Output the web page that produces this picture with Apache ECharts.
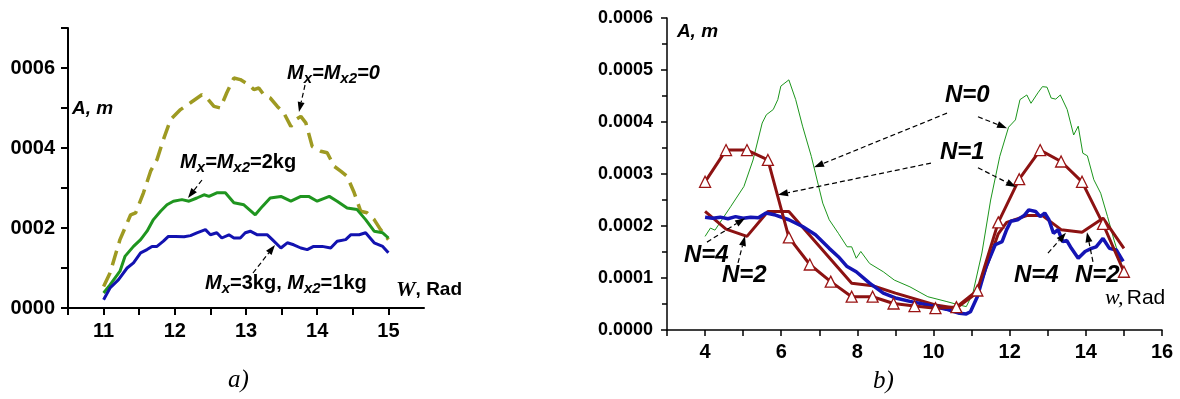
<!DOCTYPE html>
<html><head><meta charset="utf-8">
<script src="https://cdn.jsdelivr.net/npm/echarts@6/dist/echarts.min.js"></script>
<style>html,body{margin:0;padding:0;background:#fff}#c{width:1180px;height:399px}</style>
</head><body><div id="c"></div>
<script>
// ---------- DATA (left panel a) : frequency W (rad) vs amplitude A (m) ----------
const leftM0 = [[11.0,0.000054],[11.09,0.0000875],[11.23,0.000171],[11.38,0.000233],[11.45,0.000238],[11.56,0.000288],[11.66,0.000342],[11.75,0.000371],[11.84,0.000421],[11.94,0.000471],[12.08,0.000496],[12.22,0.000513],[12.38,0.000533],[12.45,0.000525],[12.55,0.000504],[12.64,0.0005],[12.73,0.000538],[12.83,0.000575],[12.92,0.000571],[13.04,0.000558],[13.11,0.000546],[13.18,0.00055],[13.25,0.000533],[13.34,0.000525],[13.44,0.000504],[13.53,0.000488],[13.63,0.000454],[13.70,0.000471],[13.77,0.000479],[13.84,0.000463],[13.93,0.000404],[14.05,0.000392],[14.14,0.000388],[14.24,0.000354],[14.33,0.000342],[14.42,0.000329],[14.52,0.000288],[14.61,0.000242],[14.70,0.000238],[14.80,0.000221],[14.89,0.000196],[15.0,0.000171]];
const leftM2 = [[11.0,0.0000375],[11.09,0.000058],[11.23,0.000092],[11.30,0.000129],[11.42,0.000154],[11.52,0.000171],[11.61,0.000192],[11.70,0.000221],[11.80,0.000242],[11.89,0.000258],[11.98,0.000267],[12.10,0.000271],[12.20,0.000267],[12.31,0.000275],[12.41,0.000283],[12.48,0.000279],[12.59,0.000288],[12.71,0.000288],[12.83,0.000263],[12.97,0.000258],[13.13,0.000233],[13.23,0.000254],[13.34,0.000275],[13.49,0.000279],[13.63,0.000267],[13.77,0.000279],[13.88,0.000279],[14.0,0.000267],[14.17,0.000279],[14.28,0.000267],[14.42,0.00025],[14.56,0.000246],[14.68,0.000221],[14.80,0.000192],[14.92,0.000188],[15.0,0.000175]];
const leftM31 = [[11.0,0.0000208],[11.09,0.00005],[11.21,0.000071],[11.33,0.0001],[11.42,0.000113],[11.52,0.000138],[11.61,0.000146],[11.68,0.000154],[11.75,0.000154],[11.84,0.000167],[11.91,0.000179],[12.01,0.000179],[12.13,0.000178],[12.22,0.000181],[12.31,0.000188],[12.43,0.000196],[12.50,0.000183],[12.59,0.000188],[12.66,0.000175],[12.76,0.000183],[12.83,0.000175],[12.92,0.000175],[12.99,0.000188],[13.06,0.000192],[13.16,0.000183],[13.30,0.000183],[13.37,0.000171],[13.49,0.00015],[13.58,0.000163],[13.67,0.000158],[13.77,0.00015],[13.86,0.000146],[13.95,0.000154],[14.07,0.000154],[14.19,0.00015],[14.28,0.000167],[14.40,0.000171],[14.47,0.000183],[14.59,0.000183],[14.68,0.000188],[14.80,0.000163],[14.92,0.000154],[15.0,0.000138]];

// ---------- DATA (right panel b) ----------
const rightN0 = [[4.00,0.00018],[4.14,0.000196],[4.26,0.000192],[4.44,0.000212],[4.67,0.000237],[5.02,0.000276],[5.26,0.000327],[5.50,0.000398],[5.61,0.000414],[5.79,0.000424],[5.91,0.000443],[5.99,0.000469],[6.20,0.000481],[6.38,0.000443],[6.56,0.000392],[6.79,0.000334],[7.09,0.000244],[7.26,0.000212],[7.50,0.000186],[7.73,0.00016],[7.85,0.00016],[7.97,0.000138],[8.09,0.000151],[8.32,0.000128],[8.68,0.000112],[8.97,0.000096],[9.38,0.000083],[9.85,0.000064],[10.33,0.000055],[10.68,0.000048],[10.86,0.000045],[11.03,0.00007],[11.27,0.000148],[11.50,0.00025],[11.74,0.000334],[11.97,0.00039],[12.15,0.000404],[12.27,0.000443],[12.45,0.000452],[12.56,0.000436],[12.74,0.000456],[12.86,0.000468],[12.98,0.000467],[13.09,0.000446],[13.21,0.000444],[13.33,0.000452],[13.51,0.000424],[13.68,0.000375],[13.80,0.000392],[13.92,0.00034],[14.04,0.000335],[14.21,0.000289],[14.39,0.000263],[14.57,0.000218],[14.74,0.000173],[14.98,0.000116]];
const rightN1 = [[4.0,0.000285],[4.55,0.000346],[5.1,0.000346],[5.65,0.000327],[6.2,0.000178],[6.75,0.000126],[7.3,0.000093],[7.85,0.000064],[8.4,0.000064],[8.95,0.000051],[9.5,0.000046],[10.05,0.000042],[10.6,0.000044],[11.15,0.000076],[11.7,0.000207],[12.25,0.00029],[12.8,0.000346],[13.35,0.000324],[13.9,0.000285],[14.45,0.000204],[15.0,0.000112]];
const rightN2 = [[4.0,0.000228],[4.55,0.000194],[5.1,0.00018],[5.65,0.000228],[6.2,0.000228],[7.85,0.00009],[8.4,0.000085],[9.0,0.000071],[10.05,0.000048],[10.6,0.000042],[11.15,0.000072],[11.7,0.000185],[11.92,0.000207],[12.45,0.00022],[12.86,0.00022],[13.35,0.000193],[13.9,0.000188],[14.45,0.000215],[15.0,0.000157]];
const rightN4 = [[4.0,0.000217],[4.2,0.000215],[4.4,0.000217],[4.6,0.000214],[4.8,0.000218],[5.0,0.000215],[5.2,0.000217],[5.4,0.000216],[5.6,0.000225],[5.85,0.000221],[6.2,0.000212],[6.56,0.000199],[6.9,0.000183],[7.26,0.000157],[7.5,0.000141],[7.73,0.000122],[7.97,0.000112],[8.32,0.00009],[8.68,0.000071],[9.03,0.000061],[9.38,0.000055],[9.85,0.000048],[10.33,0.00004],[10.68,0.000032],[10.86,0.000031],[10.97,0.000035],[11.15,0.000064],[11.38,0.000122],[11.62,0.000164],[11.8,0.00017],[11.92,0.000193],[12.03,0.000209],[12.21,0.000212],[12.39,0.000221],[12.5,0.000231],[12.68,0.000228],[12.8,0.000218],[12.92,0.000225],[13.03,0.000212],[13.15,0.000186],[13.27,0.000193],[13.39,0.00017],[13.5,0.000172],[13.62,0.000157],[13.8,0.000138],[13.98,0.000151],[14.15,0.000157],[14.27,0.00016],[14.45,0.000176],[14.62,0.000157],[14.8,0.000154],[14.98,0.000132]];

// tick labels
const leftYTickLabels = {0:'0000',2:'0002',4:'0004',6:'0006'};
const leftXTickLabels = {11:'11',12:'12',13:'13',14:'14',15:'15'};
const rightXTickLabels = {4:'4',6:'6',8:'8',10:'10',12:'12',14:'14',16:'16'};

// annotation anchors (data coordinates)
const leftTexts = [
  {p:[13.576,0.0005875], t:'{m|M}{s|x}{m|=M}{s|x2}{m|=0}'},
  {p:[12.073,0.000365], t:'{m|M}{s|x}{m|=M}{s|x2}{n|=2kg}'},
  {p:[12.424,0.0000625], t:'{m|M}{s|x}{n|=3kg, }{m|M}{s|x2}{n|=1kg}'}
];
const leftArrows = [
  [[13.829,0.0005575],[13.744,0.00049]],
  [[12.382,0.00032],[12.185,0.000275]],
  [[13.098,0.0000875],[13.407,0.0001575]]
];
const rightTexts = [
  {p:[10.30,0.000452], t:'N=0'},
  {p:[10.17,0.000342], t:'N=1'},
  {p:[3.446,0.000144], t:'N=4'},
  {p:[4.444,0.000106], t:'N=2'},
  {p:[12.113,0.000106], t:'N=4'},
  {p:[13.714,0.000106], t:'N=2'}
];
const rightArrows = [
  [[10.353,0.000417],[6.86,0.000313]],
  [[11.167,0.00041],[11.93,0.000388]],
  [[9.933,0.000321],[5.915,0.00026]],
  [[11.167,0.000312],[12.165,0.000275]],
  [[4.05,0.000169],[5.05,0.000215]],
  [[4.865,0.000129],[5.048,0.000181]],
  [[13.005,0.000148],[13.478,0.000187]],
  [[14.187,0.000131],[14.03,0.000188]]
];

const SANS = '"Liberation Sans", Arial, sans-serif';
const SERIF = '"Liberation Serif", "Times New Roman", serif';

const chart = echarts.init(document.getElementById('c'), null, {renderer:'canvas'});

const axisLineStyle = {color:'#000', width:2};
const option = {
  animation:false,
  backgroundColor:'#fff',
  grid:[
    {left:68, top:28, width:356, height:280},
    {left:667, top:18, width:495, height:312}
  ],
  xAxis:[
    {gridIndex:0, type:'value', min:10.5, max:15.5, interval:0.5,
     axisLine:{show:true, lineStyle:axisLineStyle}, axisTick:{show:true, inside:false, length:7, lineStyle:{color:'#000', width:2}},
     splitLine:{show:false},
     axisLabel:{margin:13, fontFamily:SANS, fontWeight:'bold', fontSize:20, color:'#000',
       showMinLabel:true, showMaxLabel:false,
       formatter:v=>{const k=Math.round(v*2); return k%2===0 ? (leftXTickLabels[k/2]||'') : '';}}},
    {gridIndex:1, type:'value', min:3, max:16, interval:1,
     axisLine:{show:true, lineStyle:{color:'#000', width:1.5}}, axisTick:{show:true, inside:false, length:6, lineStyle:{color:'#000', width:1.5}},
     splitLine:{show:false},
     axisLabel:{margin:12, fontFamily:SANS, fontWeight:'bold', fontSize:20, color:'#000',
       showMinLabel:true, showMaxLabel:true,
       formatter:v=>rightXTickLabels[Math.round(v)]||''}}
  ],
  yAxis:[
    {gridIndex:0, type:'value', min:0, max:0.0007, interval:0.0001,
     axisLine:{show:true, lineStyle:axisLineStyle}, axisTick:{show:true, inside:false, length:7, lineStyle:{color:'#000', width:2}},
     splitLine:{show:false},
     axisLabel:{margin:13, fontFamily:SANS, fontWeight:'bold', fontSize:20, color:'#000',
       formatter:v=>leftYTickLabels[Math.round(v*10000)]||''}},
    {gridIndex:1, type:'value', min:0, max:0.0006, interval:0.0001,
     axisLine:{show:true, lineStyle:{color:'#000', width:1.5}}, axisTick:{show:true, inside:false, length:6, lineStyle:{color:'#000', width:1.5}},
     minorTick:{show:true, splitNumber:2, length:5, lineStyle:{color:'#000', width:1.5}},
     splitLine:{show:false},
     axisLabel:{margin:14, fontFamily:SANS, fontWeight:'bold', fontSize:18, color:'#000',
       formatter:v=>v.toFixed(4)}}
  ],
  series:[
    {type:'line', xAxisIndex:0, yAxisIndex:0, data:leftM0, showSymbol:false, symbol:'none',
     lineStyle:{color:'#9e9a22', width:3.5, type:[15,8]}},
    {type:'line', xAxisIndex:0, yAxisIndex:0, data:leftM2, showSymbol:false, symbol:'none',
     lineStyle:{color:'#1f951f', width:3}},
    {type:'line', xAxisIndex:0, yAxisIndex:0, data:leftM31, showSymbol:false, symbol:'none',
     lineStyle:{color:'#1212b0', width:3}},
    {type:'line', xAxisIndex:1, yAxisIndex:1, data:rightN0, showSymbol:false, symbol:'none',
     lineStyle:{color:'#1c961c', width:1}},
    {type:'line', xAxisIndex:1, yAxisIndex:1, data:rightN2, showSymbol:false, symbol:'none',
     lineStyle:{color:'#8c1212', width:3}},
    {type:'line', xAxisIndex:1, yAxisIndex:1, data:rightN4, showSymbol:false, symbol:'none',
     lineStyle:{color:'#1414b4', width:3.5}},
    {type:'line', xAxisIndex:1, yAxisIndex:1, data:rightN1, showSymbol:true, symbol:'triangle', symbolSize:11,
     itemStyle:{color:'#fff', borderColor:'#9a1414', borderWidth:1.3},
     lineStyle:{color:'#8c1212', width:3}}
  ]
};
chart.setOption(option);

function px(gi, p){ return chart.convertToPixel({xAxisIndex:gi, yAxisIndex:gi}, p); }
function arrow(gi, a, b){
  const p0 = px(gi,a), p1 = px(gi,b);
  const ang = Math.atan2(p1[1]-p0[1], p1[0]-p0[0]);
  const L = 10, H = 3.5;
  const bx = p1[0]-L*Math.cos(ang), by = p1[1]-L*Math.sin(ang);
  return [
    {type:'line', shape:{x1:p0[0], y1:p0[1], x2:bx, y2:by}, style:{stroke:'#000', lineWidth:1.2, lineDash:[5,3]}, z:50},
    {type:'polygon', shape:{points:[[p1[0],p1[1]],[bx+H*Math.sin(ang), by-H*Math.cos(ang)],[bx-H*Math.sin(ang), by+H*Math.cos(ang)]]}, style:{fill:'#000'}, z:50}
  ];
}
const g = [];
const richLeft = {
  m:{fontFamily:SANS, fontStyle:'italic', fontWeight:'bold', fontSize:20, fill:'#000'},
  n:{fontFamily:SANS, fontWeight:'bold', fontSize:20, fill:'#000'},
  s:{fontFamily:SANS, fontStyle:'italic', fontWeight:'bold', fontSize:15, fill:'#000', padding:[12,0,0,0]}
};
leftTexts.forEach(o=>{
  const p = px(0,o.p);
  g.push({type:'text', x:p[0], y:p[1], z:60, style:{text:o.t, rich:richLeft, verticalAlign:'middle', align:'left'}});
});
leftArrows.forEach(a=>g.push(...arrow(0,a[0],a[1])));
rightTexts.forEach(o=>{
  const p = px(1,o.p);
  g.push({type:'text', x:p[0], y:p[1], z:60, style:{text:o.t, fontFamily:SANS, fontStyle:'italic', fontWeight:'bold', fontSize:24, fill:'#000', verticalAlign:'middle', align:'left'}});
});
rightArrows.forEach(a=>g.push(...arrow(1,a[0],a[1])));

// axis titles & captions
const aLeft = px(0,[10.556,0.0004975]);
g.push({type:'text', x:aLeft[0], y:aLeft[1], style:{text:'A, m', fontFamily:SANS, fontStyle:'italic', fontWeight:'bold', fontSize:19, fill:'#000', verticalAlign:'middle'}});
const wLeft = px(0,[15.107,0.000045]);
g.push({type:'text', x:wLeft[0], y:wLeft[1], style:{text:'{w|W}{r|, Rad}', rich:{
  w:{fontFamily:SERIF, fontStyle:'italic', fontWeight:'bold', fontSize:22, fill:'#000'},
  r:{fontFamily:SANS, fontWeight:'bold', fontSize:19, fill:'#000'}}, verticalAlign:'middle'}});
const aRight = px(1,[3.26,0.000573]);
g.push({type:'text', x:aRight[0], y:aRight[1], style:{text:'A, m', fontFamily:SANS, fontStyle:'italic', fontWeight:'bold', fontSize:19, fill:'#000', verticalAlign:'middle'}});
const wRight = px(1,[14.5,0.0000615]);
g.push({type:'text', x:wRight[0], y:wRight[1], style:{text:'{w|w,} {r|Rad}', rich:{
  w:{fontFamily:SERIF, fontStyle:'italic', fontSize:22, fill:'#000'},
  r:{fontFamily:SANS, fontSize:21, fill:'#000'}}, verticalAlign:'middle'}});
g.push({type:'text', left:228, top:368, style:{text:'a)', fontFamily:SERIF, fontStyle:'italic', fontSize:25, fill:'#000'}});
g.push({type:'text', left:873, top:369, style:{text:'b)', fontFamily:SERIF, fontStyle:'italic', fontSize:25, fill:'#000'}});

chart.setOption({graphic:{elements:g}});
</script></body></html>
